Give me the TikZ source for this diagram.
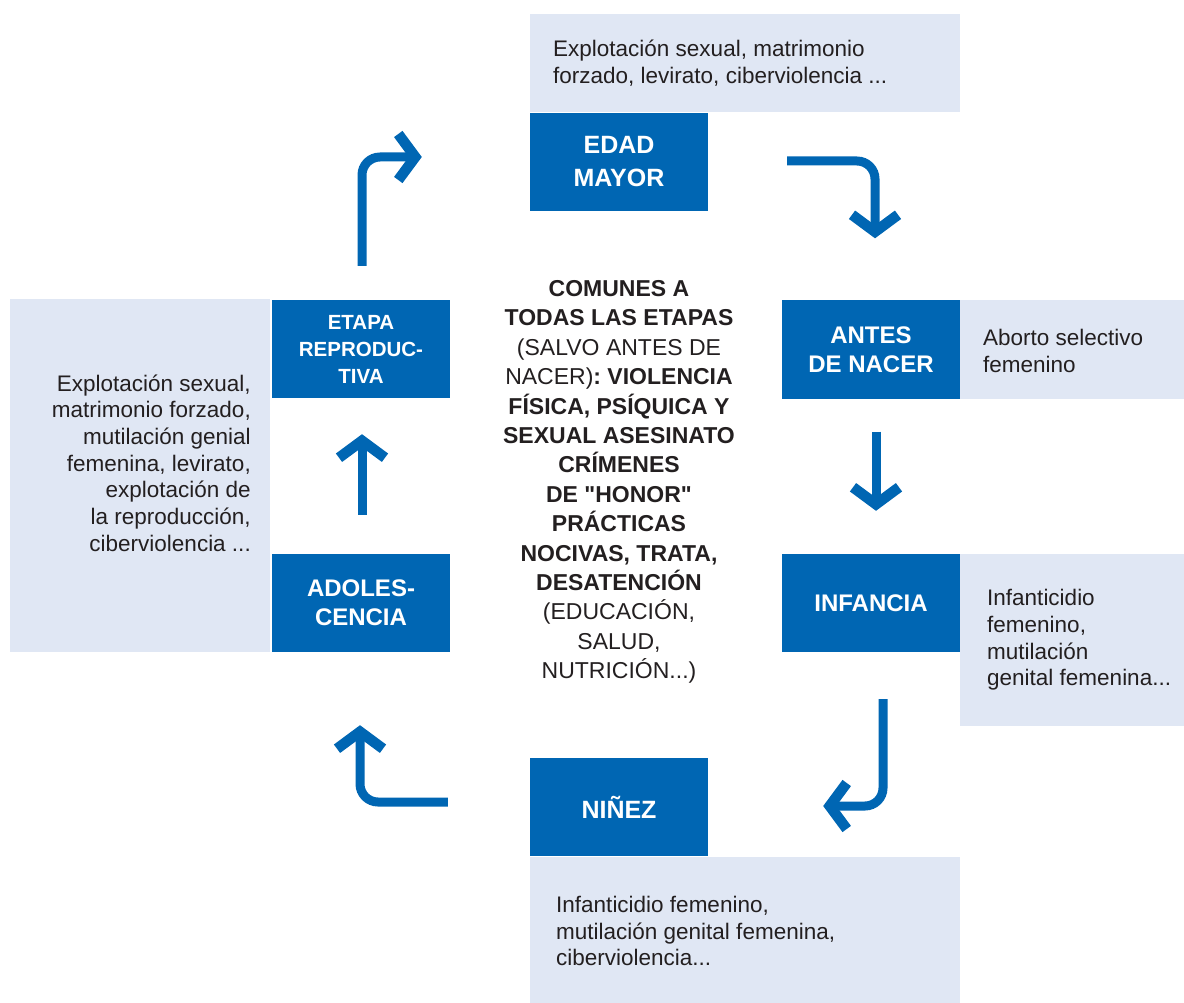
\documentclass[tikz,border=0pt]{standalone}
\usepackage{fontspec}
\setmainfont{Liberation Sans}[Ligatures=TeXOff]
\usetikzlibrary{calc,arrows.meta}
\definecolor{stageblue}{RGB}{0,102,179}
\definecolor{notegray}{RGB}{224,231,244}
\definecolor{inkgray}{RGB}{35,31,32}
\tikzset{
	stage/.style={fill=stageblue, text=white, minimum width=178pt, minimum height=98pt, inner sep=0pt, align=center, font=\bfseries\fontsize{24}{29}\selectfont},
	notetext/.style={inner sep=0pt, text=inkgray, font=\fontsize{22.5}{26.7}\selectfont},
	flow/.style={draw=stageblue, line width=9pt, rounded corners=18pt, -{Straight Barb[length=17pt,width=46pt,line width=10.5pt]}},
}
\begin{document}
\begin{tikzpicture}[x=1pt,y=-1pt]
			%%%%% START %%%%%
			\useasboundingbox (0,0) rectangle (1184,1003);
			
			% panels behind the notes
			\fill[notegray] (530,14) rectangle (960,112);
			\fill[notegray] (960,300) rectangle (1184,399);
			\fill[notegray] (960,554) rectangle (1184,726);
			\fill[notegray] (530,857) rectangle (960,1003);
			\fill[notegray] (10,299) rectangle (270,652);
			
			% stages
			\node[stage, font=\bfseries\fontsize{25}{33}\selectfont] (edad) at (619,162) {EDAD\\MAYOR};
			\node[stage] (antes) at (871,349.5) {ANTES\\DE NACER};
			\node[stage] (infancia) at (871,603) {INFANCIA};
			\node[stage, font=\bfseries\fontsize{25}{29}\selectfont] (ninez) at (619,807) {NIÑEZ};
			\node[stage] (adol) at (361,603) {ADOLES-\\CENCIA};
			\node[stage, font=\bfseries\fontsize{20.5}{27}\selectfont] (reprod) at (361,349) {ETAPA\\REPRODUC-\\TIVA};
			
			% notes
			\node[notetext, align=left, anchor=west] (edadnote) at (553,63) {Explotación sexual, matrimonio\\forzado, levirato, ciberviolencia ...};
			\node[notetext, align=left, anchor=west] (antesnote) at (983,351) {Aborto selectivo\\femenino};
			\node[notetext, align=left, anchor=west] (infancianote) at (987,640) {Infanticidio\\femenino,\\mutilación\\genital femenina...};
			\node[notetext, align=left, anchor=west] (nineznote) at (556,931) {Infanticidio femenino,\\mutilación genital femenina,\\ciberviolencia...};
			\node[notetext, align=right, anchor=east] (reprodnote) at (251,463) {Explotación sexual,\\matrimonio forzado,\\mutilación genial\\femenina, levirato,\\explotación de\\la reproducción,\\ciberviolencia ...};
			
			% common to all stages
			\node[notetext, align=center, font=\fontsize{23}{29.4}\selectfont] (comun) at (619,482) {\textbf{COMUNES A}\\\textbf{TODAS LAS ETAPAS}\\(SALVO ANTES DE\\NACER)\textbf{: VIOLENCIA}\\\textbf{FÍSICA, PSÍQUICA Y}\\\textbf{SEXUAL ASESINATO}\\\textbf{CRÍMENES}\\\textbf{DE "HONOR"}\\\textbf{PRÁCTICAS}\\\textbf{NOCIVAS, TRATA,}\\\textbf{DESATENCIÓN}\\(EDUCACIÓN,\\SALUD,\\NUTRICIÓN...)};
			
			% cycle arrows
			\draw[flow] ($(reprod.north)+(1,-34)$) |- ($(edad.west)+(-108,-5)$);
			\draw[flow] ($(edad.east)+(79,-1)$) -| ($(antes.north)+(4,-62)$);
			\draw[flow] ($(antes.south)+(5,33)$) -- ($(infancia.north)+(5,-43)$);
			\draw[flow] ($(infancia.south)+(12,47)$) |- ($(ninez.east)+(115,-1)$);
			\draw[flow] ($(ninez.west)+(-82,-5)$) -| ($(adol.south)+(-1,73)$);
			\draw[flow] ($(adol.north)+(1,-39)$) -- ($(reprod.south)+(1,36)$);
			
			%%%%% END %%%%%
\end{tikzpicture}
\end{document}
